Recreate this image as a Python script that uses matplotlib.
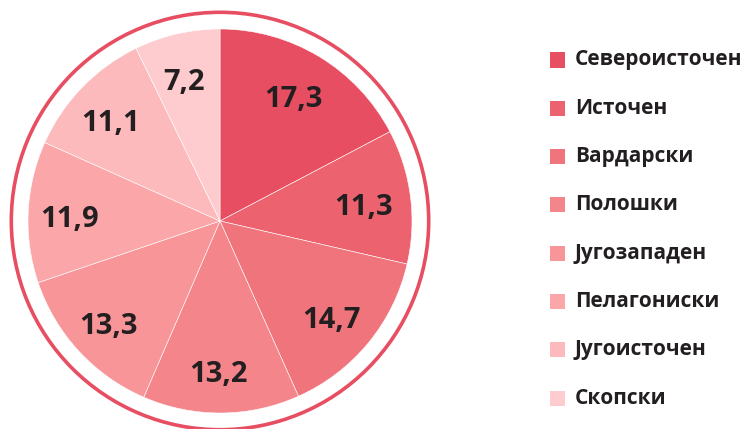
import matplotlib.pyplot as plt
from matplotlib.patches import Circle, Rectangle

regions = ['Североисточен', 'Источен', 'Вардарски', 'Полошки',
           'Југозападен', 'Пелагониски', 'Југоисточен', 'Скопски']
values = [17.3, 11.3, 14.7, 13.2, 13.3, 11.9, 11.1, 7.2]
colors = ['#E84E62', '#EC626F', '#F0747C', '#F4858A',
          '#F89598', '#FBA7A9', '#FDBABC', '#FECCCE']
labels = [f'{v:.1f}'.replace('.', ',') for v in values]

plt.rcParams['font.family'] = ['Open Sans', 'DejaVu Sans']

W, H = 748, 429
fig = plt.figure(figsize=(W / 100, H / 100), dpi=100)

# pie: centre at (220, 221) px from top-left, radius 192 px
cx, cy, r = 220, 221, 192
span = 1.12
half = span * r
ax = fig.add_axes([(cx - half) / W, (H - cy - half) / H, 2 * half / W, 2 * half / H])
wedges, texts = ax.pie(values, colors=colors, startangle=90, counterclock=False,
                       radius=1.0, labels=labels, labeldistance=0.77,
                       wedgeprops=dict(edgecolor='white', linewidth=0.4),
                       textprops=dict(fontsize=21, fontweight='bold', color='#231F20',
                                      ha='center', va='center'))
# nudge labels a little down/left like the original layout
for t in texts:
    x, y = t.get_position()
    t.set_position((x - 0.015, y - 0.028))
ax.add_patch(Circle((0, 0), 1.087, fill=False, edgecolor='#E84E62', linewidth=2.6, clip_on=False))
ax.set_xlim(-span, span)
ax.set_ylim(-span, span)
ax.set_aspect('equal')
ax.axis('off')

# legend
y0, dy = 60, 48.3
for i, (name, c) in enumerate(zip(regions, colors)):
    y = y0 + i * dy
    fig.patches.append(Rectangle((550 / W, (H - y - 7.5) / H), 15 / W, 15 / H,
                                 transform=fig.transFigure, facecolor=c, edgecolor='none'))
    fig.text(575 / W, (H - y) / H, name, fontsize=15, fontweight='bold',
             color='#231F20', ha='left', va='center')

fig.savefig('out.png', dpi=100)
